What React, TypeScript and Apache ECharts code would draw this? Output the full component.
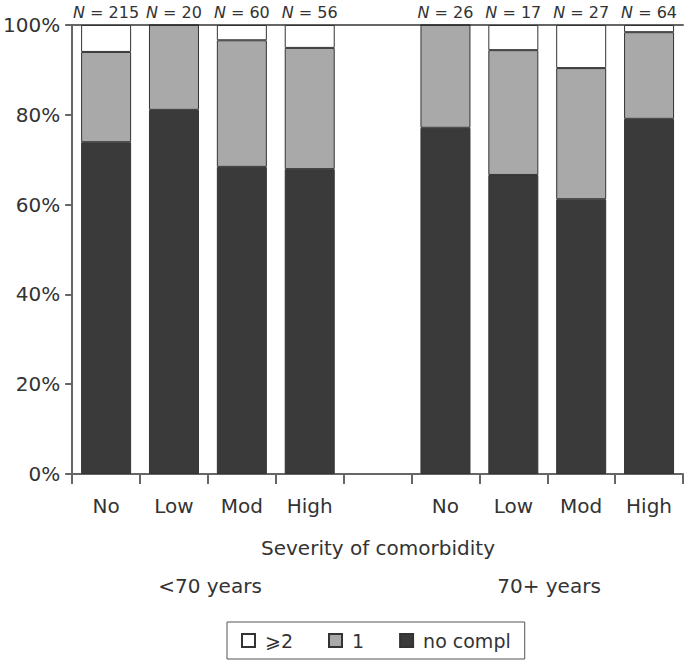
import React, { useEffect, useRef } from "react";
import * as echarts from "echarts";

const categories = ["No", "Low", "Mod", "High", "", "No", "Low", "Mod", "High"];
const nLabels = ["215", "20", "60", "56", "", "26", "17", "27", "64"];
const noCompl = [73.9, 81.1, 68.4, 67.9, null, 77.1, 66.6, 61.2, 79.1];
const oneCompl = [20.1, 18.9, 28.2, 27.0, null, 22.9, 27.8, 29.2, 19.3];
const twoPlus = [6.0, 0, 3.4, 5.1, null, 0, 5.6, 9.6, 1.6];
const yTicks = [0, 20, 40, 60, 80, 100];
const groupLabels = ["<70 years", "70+ years"];
const axisTitle = "Severity of comorbidity";

const FONT = "DejaVu Sans, Liberation Sans, Arial, sans-serif";
const TXT = "#333";
const FS = 20;

export default function App() {
  const ref = useRef<HTMLDivElement>(null);
  useEffect(() => {
    if (!ref.current) return;
    const chart = echarts.init(ref.current, null, { renderer: "svg" });
    const barStyle = (color: string) => ({
      color,
      borderColor: "#333",
      borderWidth: 1,
    });
    chart.setOption({
      animation: false,
      textStyle: { fontFamily: FONT },
      grid: { left: 70, right: 2, top: 25, bottom: 187 },
      legend: {
        data: ["⩾2", "1", "no compl"],
        bottom: 2,
        left: 227,
        icon: "rect",
        itemWidth: 13,
        itemHeight: 13,
        itemGap: 35,
        padding: [9, 14, 9, 14],
        borderColor: "#555",
        borderWidth: 1,
        borderRadius: 0,
        textStyle: { fontSize: 19, color: TXT, fontFamily: FONT, padding: [0, 0, 0, 5] },
      },
      xAxis: [
        {
          type: "category",
          data: categories,
          position: "bottom",
          axisLine: { lineStyle: { color: "#666", width: 2 } },
          axisTick: { show: true, length: 10, inside: false, lineStyle: { color: "#666", width: 2 } },
          axisLabel: { fontSize: FS, color: TXT, margin: 22, fontFamily: FONT, interval: 0 },
        },
        {
          type: "category",
          data: nLabels,
          position: "top",
          axisLine: { lineStyle: { color: "#666", width: 2 } },
          axisTick: { show: false },
          axisLabel: {
            margin: 5,
            interval: 0,
            formatter: (v: string) => (v ? `{i|N}{t| = ${v}}` : ""),
            rich: {
              i: { fontStyle: "italic", fontSize: 16, color: TXT, fontFamily: FONT },
              t: { fontSize: 16, color: TXT, fontFamily: FONT },
            },
          },
        },
      ],
      yAxis: {
        type: "value",
        min: 0,
        max: 100,
        interval: 20,
        axisLine: { show: true, lineStyle: { color: "#666", width: 2 } },
        axisTick: { show: true, length: 7, lineStyle: { color: "#666", width: 2 } },
        splitLine: { show: false },
        axisLabel: {
          fontSize: FS,
          color: TXT,
          margin: 12,
          fontFamily: FONT,
          formatter: (v: number) => (yTicks.includes(v) ? `${v}%` : ""),
        },
      },
      series: [
        { name: "no compl", type: "bar", stack: "s", barWidth: 50, data: noCompl, itemStyle: barStyle("#3a3a3a") },
        { name: "1", type: "bar", stack: "s", barWidth: 50, data: oneCompl, itemStyle: barStyle("#a9a9a9") },
        { name: "⩾2", type: "bar", stack: "s", barWidth: 50, data: twoPlus, itemStyle: barStyle("#ffffff") },
      ],
      graphic: [
        {
          type: "text",
          x: 378,
          y: 548,
          style: { text: axisTitle, fontSize: FS, fill: TXT, fontFamily: FONT, align: "center", verticalAlign: "middle" },
        },
        {
          type: "text",
          x: 210,
          y: 586,
          style: { text: groupLabels[0], fontSize: FS, fill: TXT, fontFamily: FONT, align: "center", verticalAlign: "middle" },
        },
        {
          type: "text",
          x: 549,
          y: 586,
          style: { text: groupLabels[1], fontSize: FS, fill: TXT, fontFamily: FONT, align: "center", verticalAlign: "middle" },
        },
      ],
    });
    return () => chart.dispose();
  }, []);
  return <div ref={ref} style={{ width: 685, height: 661, position: "absolute", left: 0, top: 0 }} />;
}
